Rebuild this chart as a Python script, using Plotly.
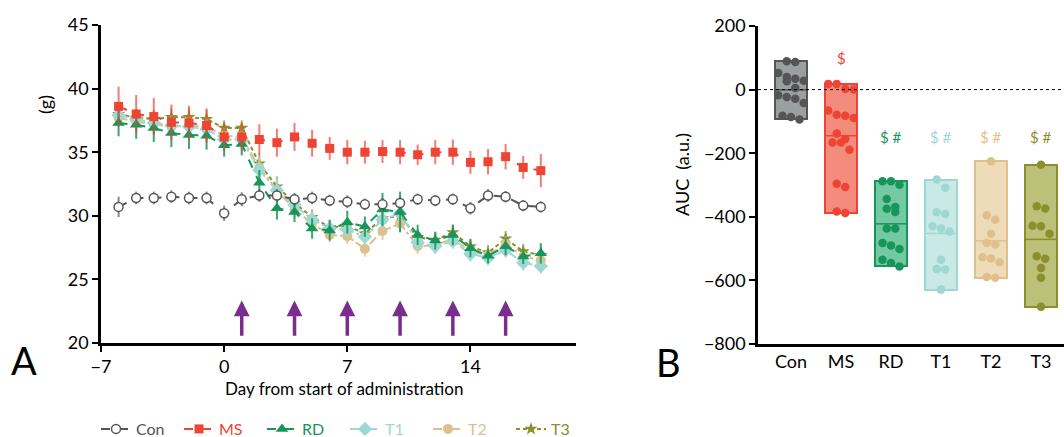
import plotly.graph_objects as go
import numpy as np

# ---------------- body weight time course ----------------
days = list(range(-6, 19))
dose_days = [1, 4, 7, 10, 13, 16]

con = [30.7, 31.4, 31.4, 31.5, 31.4, 31.4, 30.2, 31.3, 31.6, 31.6, 31.3, 31.4, 31.2,
       31.1, 30.9, 30.9, 31.0, 31.3, 31.2, 31.3, 30.6, 31.6, 31.5, 30.8, 30.7]
con_err = [0.8, 0.5, 0.5, 0.5, 0.5, 0.5, 0.6, 0.55, 0.5, 0.5, 0.5, 0.5, 0.45,
           0.5, 0.45, 0.5, 0.5, 0.45, 0.45, 0.45, 0.5, 0.5, 0.45, 0.45, 0.45]
ms = [38.6, 38.0, 37.8, 37.35, 37.3, 37.1, 36.2, 36.2, 36.0, 35.75, 36.2, 35.7, 35.3,
      35.0, 35.0, 35.05, 35.0, 34.8, 35.0, 35.0, 34.2, 34.25, 34.65, 33.8, 33.55]
ms_err = [1.55, 1.5, 1.45, 1.4, 1.35, 1.35, 1.1, 1.1, 1.2, 1.1, 1.1, 1.05, 0.9,
          0.95, 0.9, 0.9, 0.95, 0.8, 0.95, 1.0, 0.9, 1.0, 1.0, 0.9, 1.3]
rd = [37.3, 37.15, 36.9, 36.5, 36.35, 36.3, 35.55, 35.65, 32.6, 30.6, 30.3, 29.0, 28.85,
      29.5, 29.15, 30.5, 30.3, 28.5, 28.05, 28.5, 27.45, 26.85, 27.6, 26.8, 27.05]
rd_err = [1.05, 1.1, 1.1, 1.1, 1.1, 1.1, 0.9, 0.9, 1.0, 0.9, 0.8, 0.8, 0.8,
          0.9, 0.8, 1.3, 1.6, 0.8, 0.7, 0.8, 0.7, 0.6, 0.7, 0.6, 0.8]
t1 = [37.9, 37.6, 37.3, 37.1, 37.0, 36.8, 36.0, 36.0, 33.6, 32.0, 30.85, 29.7, 29.0,
      28.9, 28.35, 29.7, 30.2, 27.9, 27.6, 28.0, 27.0, 26.7, 27.3, 26.3, 26.05]
t1_err = [0.8, 0.8, 0.8, 0.8, 0.8, 0.8, 0.7, 0.7, 1.0, 1.0, 0.8, 0.7, 0.7,
          0.7, 0.7, 0.8, 0.8, 0.7, 0.6, 0.6, 0.6, 0.6, 0.6, 0.6, 0.6]
t2 = [37.7, 37.4, 37.2, 37.0, 37.1, 37.0, 36.3, 36.2, 33.8, 32.0, 30.5, 29.4, 28.5,
      28.4, 27.4, 28.8, 29.4, 27.6, 27.7, 28.2, 27.2, 26.9, 27.8, 26.8, 26.5]
t2_err = [0.7, 0.7, 0.7, 0.7, 0.7, 0.7, 0.6, 0.6, 0.8, 0.8, 0.7, 0.6, 0.6,
          0.6, 0.6, 0.7, 0.7, 0.6, 0.6, 0.6, 0.6, 0.6, 0.6, 0.6, 0.6]
t3 = [38.0, 37.7, 37.6, 37.75, 37.75, 37.6, 36.9, 36.9, 34.1, 32.3, 31.0, 29.9, 29.1,
      29.2, 28.6, 29.8, 30.0, 28.3, 28.1, 28.7, 27.6, 27.1, 28.2, 27.2, 26.9]
t3_err = [0.7, 0.7, 0.7, 0.7, 0.7, 0.7, 0.6, 0.6, 0.8, 0.8, 0.7, 0.6, 0.6,
          0.6, 0.6, 0.7, 0.7, 0.6, 0.6, 0.6, 0.6, 0.6, 0.6, 0.6, 0.6]

# ---------------- AUC per animal ----------------
groups = ["Con", "MS", "RD", "T1", "T2", "T3"]
auc_con = [87, 89, 52, 26, 34, 28, 40, 5, -18, -29, -23, -42, -94, -82, -86]
auc_ms = [18, 18, 2, 0, -79, -89, -82, -66, -155, -138, -166, -166, -189, -306, -296, -388, -383]
auc_rd = [-288, -299, -288, -344, -385, -375, -369, -437, -437, -482, -501, -490, -535, -556, -545]
auc_t1 = [-283, -309, -391, -386, -430, -446, -437, -535, -564, -566, -629]
auc_t2 = [-225, -395, -409, -453, -487, -482, -531, -527, -543, -592, -589]
auc_t3 = [-236, -374, -367, -430, -428, -453, -524, -532, -561, -592, -683]
sig_labels = ["", "$", "$ #", "$ #", "$ #", "$ #"]

# ---------------- styling ----------------
W, H = 1064, 437
FONT = "Lato"
line_cols = ["#555555", "#ee4433", "#17955b", "#9dd8d2", "#dfc08c", "#8d8f2e"]
fill_cols = ["#9c9fa0", "#f48c7d", "#74c9a3", "#c9e9e6", "#eedcb8", "#bcc078"]
err_cols = ["rgba(85,85,85,0.7)", "rgba(238,68,51,0.7)", "rgba(23,149,91,0.85)",
            "rgba(157,216,210,0.8)", "rgba(223,192,140,0.8)", "rgba(141,143,46,0.7)"]


def px(x):
    return x / W


def py(y):
    return 1 - y / H


fig = go.Figure()

series = [
    # name, y, err, colour idx, symbol, size, dash, open marker
    ("T3", t3, t3_err, 5, "star", 10, "4px,3px", False),
    ("T2", t2, t2_err, 4, "circle", 10, "dashdot", False),
    ("T1", t1, t1_err, 3, "diamond", 11, "dashdot", False),
    ("RD", rd, rd_err, 2, "triangle-up", 11, "dash", False),
    ("MS", ms, ms_err, 1, "square", 9, "dash", False),
    ("Con", con, con_err, 0, "circle-open", 9, "dash", True),
]
rank = {"Con": 1, "MS": 2, "RD": 3, "T1": 4, "T2": 5, "T3": 6}
for name, yv, ev, ci, sym, sz, dash, is_open in series:
    col = line_cols[ci]
    marker = dict(symbol="circle", size=sz, color="white",
                  line=dict(color=col, width=1.5)) if is_open else \
        dict(symbol=sym, size=sz, color=col, line=dict(width=0))
    fig.add_trace(go.Scatter(
        x=days, y=yv, mode="lines+markers",
        name=f"<span style='color:{col}'>{name}</span>",
        legendrank=rank[name],
        line=dict(color=col, width=2, dash=dash),
        marker=marker,
        error_y=dict(type="data", array=ev, color=err_cols[ci], thickness=2, width=0),
        xaxis="x", yaxis="y",
    ))

# administration arrows
annotations = []
for d in dose_days:
    annotations.append(dict(
        x=d, y=23.35, ax=d, ay=20.45, xref="x", yref="y", axref="x", ayref="y",
        text="", showarrow=True, arrowhead=2, arrowsize=0.9, arrowwidth=3.5,
        arrowcolor="#7b2d8e"))

# ---------------- AUC panel ----------------
auc_all = [auc_con, auc_ms, auc_rd, auc_t1, auc_t2, auc_t3]
bar_w = 0.64
dot_d = 8.5                     # dot diameter, px
ypx_per_unit = 318 / 1000.0     # vertical scale of the AUC axis, px per a.u.
xpx_per_unit = 50.0             # horizontal scale, px per category step


def swarm(vals):
    """Spread points sharing a similar level into a symmetric row."""
    order = np.argsort(vals)[::-1]
    offs = np.zeros(len(vals))
    rows, cur = [], []
    for idx in order:
        if cur and ((vals[cur[0]] - vals[idx]) * ypx_per_unit < dot_d and len(cur) < 4):
            cur.append(idx)
        else:
            if cur:
                rows.append(cur)
            cur = [idx]
    rows.append(cur)
    for r in rows:
        k = len(r)
        for j, idx in enumerate(r):
            offs[idx] = (j - (k - 1) / 2) * dot_d / xpx_per_unit
    return offs


shapes = []
mins = [min(v) for v in auc_all]
maxs = [max(v) for v in auc_all]
fig.add_trace(go.Bar(
    x=list(range(len(groups))), y=[mx - mn for mx, mn in zip(maxs, mins)], base=mins,
    width=bar_w, marker=dict(color=fill_cols, line=dict(color=line_cols, width=2)),
    showlegend=False, xaxis="x2", yaxis="y2",
))
for i, vals in enumerate(auc_all):
    vals = np.array(vals, dtype=float)
    offs = swarm(vals)
    fig.add_trace(go.Scatter(
        x=i + offs, y=vals, mode="markers", showlegend=False,
        marker=dict(size=dot_d, color=line_cols[i], line=dict(width=0)),
        xaxis="x2", yaxis="y2",
    ))
    m = float(vals.mean())
    shapes.append(dict(type="line", xref="x2", yref="y2", x0=i - bar_w / 2, x1=i + bar_w / 2,
                       y0=m, y1=m, line=dict(color=line_cols[i], width=1.5)))

# significance marks: MS above its own bar, treated groups on a shared row
treated_top = max(maxs[2:])
for i, lab in enumerate(sig_labels):
    if not lab:
        continue
    yv = maxs[i] + 80 if i == 1 else treated_top + 77
    annotations.append(dict(x=i, y=yv, xref="x2", yref="y2", text=lab, showarrow=False,
                            xanchor="center", yanchor="middle",
                            font=dict(family=FONT, size=15, color=line_cols[i])))

# zero reference line
shapes.append(dict(type="line", xref="x2 domain", yref="y2", x0=0, x1=1, y0=0, y1=0,
                   line=dict(color="black", width=1, dash="dot")))


def label(x, y, text, size, angle=0):
    return dict(x=px(x), y=py(y), xref="paper", yref="paper", text=text, textangle=angle,
                xanchor="center", yanchor="middle", showarrow=False,
                font=dict(family=FONT, size=size, color="black"))


# titles and panel letters
annotations += [
    label(344, 388, "Day from start of administration", 17),
    label(45, 105, "(g)", 18, -90),
    label(682, 175, "AUC  (a.u.)", 18, -90),
    label(24, 360, "A", 38),
    label(668, 362, "B", 38),
]

axis_common = dict(showline=True, linecolor="black", linewidth=2.5, ticks="outside",
                   ticklen=6, tickwidth=2, tickcolor="black", showgrid=False, zeroline=False,
                   automargin=False,
                   tickfont=dict(family=FONT, size=18, color="black"))

fig.update_layout(
    width=W, height=H, margin=dict(l=0, r=0, t=0, b=0, autoexpand=False),
    paper_bgcolor="white", plot_bgcolor="white",
    font=dict(family=FONT, color="black"),
    xaxis=dict(domain=[px(101), px(576)], range=[-7, 20], tickvals=[-7, 0, 7, 14],
               anchor="y", **axis_common),
    yaxis=dict(domain=[py(343), py(25)], range=[20, 45], tickvals=[20, 25, 30, 35, 40, 45],
               anchor="x", **axis_common),
    xaxis2=dict(domain=[px(758), 1.0], range=[-0.66, 5.46], tickvals=list(range(len(groups))),
                ticktext=groups, anchor="y2",
                **{**axis_common, "ticks": "", "ticklen": 0}),
    yaxis2=dict(domain=[py(344), py(26)], range=[-800, 200],
                tickvals=[-800, -600, -400, -200, 0, 200], anchor="x2", **axis_common),
    showlegend=True,
    legend=dict(orientation="h", x=px(96), y=py(429), xanchor="left", yanchor="middle",
                font=dict(family=FONT, size=16), entrywidth=38, bgcolor="rgba(0,0,0,0)"),
    bargap=0,
    shapes=shapes,
    annotations=annotations,
)

fig.write_html("out.html")
